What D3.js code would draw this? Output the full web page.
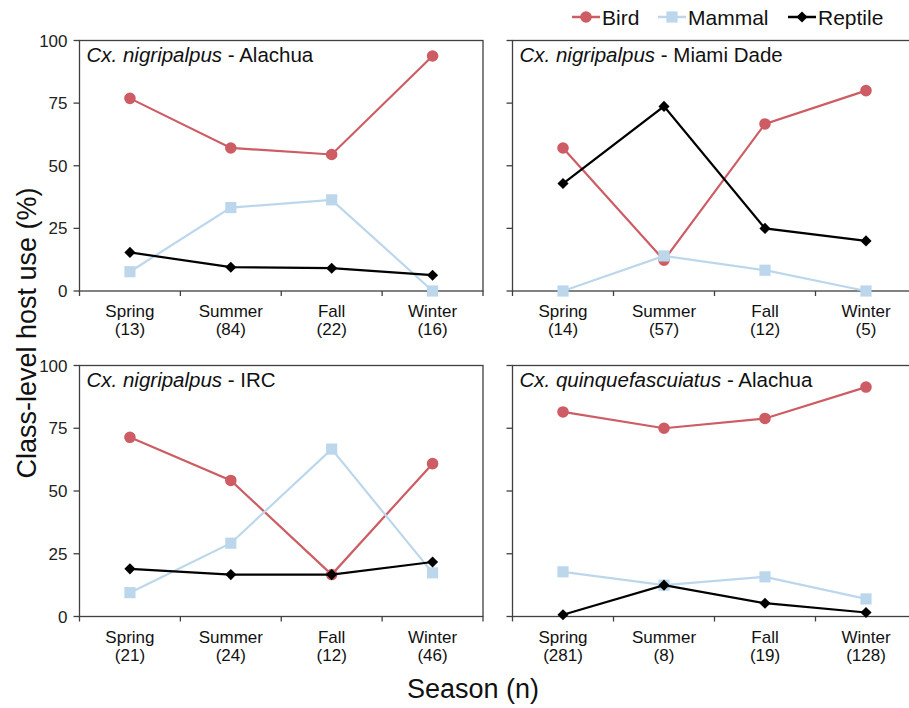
<!DOCTYPE html>
<html>
<head>
<meta charset="utf-8">
<script src="https://cdn.jsdelivr.net/npm/d3@7"></script>
<style>
  body { margin: 0; background: #fff; }
  svg { display: block; font-family: "Liberation Sans", Arial, sans-serif; }
</style>
</head>
<body>
<svg width="909" height="708"></svg>
<script>
// -------------------- Data --------------------
const seasons = ["Spring", "Summer", "Fall", "Winter"];
const yTicks = [0, 25, 50, 75, 100];
const species = ["Cx. nigripalpus", "Cx. nigripalpus", "Cx. nigripalpus", "Cx. quinquefascuiatus"];
const sites = ["Alachua", "Miami Dade", "IRC", "Alachua"];
const sampleSizes = [[13, 84, 22, 16], [14, 57, 12, 5], [21, 24, 12, 46], [281, 8, 19, 128]];

const birdValues = [[76.9, 57.1, 54.5, 93.8], [57.1, 12.3, 66.7, 80.0], [71.4, 54.2, 16.7, 60.9], [81.5, 75.0, 78.9, 91.4]];
const mammalValues = [[7.7, 33.3, 36.4, 0], [0, 14.0, 8.3, 0], [9.5, 29.2, 66.7, 17.4], [17.8, 12.5, 15.8, 7.0]];
const reptileValues = [[15.4, 9.5, 9.1, 6.3], [42.9, 73.7, 25.0, 20.0], [19.0, 16.7, 16.7, 21.7], [0.7, 12.5, 5.3, 1.6]];

const seriesNames = ["Bird", "Mammal", "Reptile"];

// -------------------- Layout --------------------
const birdColor = "#cd5c64";
const mammalColor = "#bcd7ec";
const axisColor = "#404040";

const panels = [
  { left: 79.5, right: 483, top: 40.5, bottom: 291, yLabels: true },
  { left: 512.5, right: 916.5, top: 40.5, bottom: 291, yLabels: false },
  { left: 79.5, right: 483, top: 365.5, bottom: 616.5, yLabels: true },
  { left: 512.5, right: 916.5, top: 365.5, bottom: 616.5, yLabels: false }
];

// reptile diamond = square turned 45 degrees
const series = [
  { name: seriesNames[0], values: birdValues, color: birdColor, symbol: d3.symbolCircle, size: 105, rot: 0 },
  { name: seriesNames[1], values: mammalValues, color: mammalColor, symbol: d3.symbolSquare, size: 125, rot: 0 },
  { name: seriesNames[2], values: reptileValues, color: "#000", symbol: d3.symbolSquare, size: 62, rot: 45 }
];

const svg = d3.select("svg");

panels.forEach((p, i) => {
  const x = d3.scaleBand().domain(seasons).range([p.left, p.right]);
  const y = d3.scaleLinear().domain([0, 100]).range([p.bottom, p.top]);
  const g = svg.append("g");

  // frame
  g.append("rect")
    .attr("x", p.left).attr("y", p.top)
    .attr("width", p.right - p.left).attr("height", p.bottom - p.top)
    .attr("fill", "none").attr("stroke", axisColor).attr("stroke-width", 1.3);

  // y axis ticks
  g.selectAll(".ytick").data(yTicks).enter().append("line")
    .attr("x1", p.left - 6).attr("x2", p.left)
    .attr("y1", d => y(d)).attr("y2", d => y(d))
    .attr("stroke", axisColor).attr("stroke-width", 1.3);

  if (p.yLabels) {
    g.selectAll(".ylab").data(yTicks).enter().append("text")
      .attr("x", p.left - 12).attr("y", d => y(d) + 6)
      .attr("text-anchor", "end")
      .attr("font-size", 17).attr("fill", "#222")
      .text(d => d);
  }

  // x ticks at band edges
  const edges = seasons.map(s => x(s)).concat([p.right]);
  g.selectAll(".xtick").data(edges).enter().append("line")
    .attr("x1", d => d).attr("x2", d => d)
    .attr("y1", p.bottom).attr("y2", p.bottom + 5)
    .attr("stroke", axisColor).attr("stroke-width", 1.3);

  // x labels
  const lab = g.selectAll(".xlab").data(seasons).enter().append("text")
    .attr("text-anchor", "middle")
    .attr("font-size", 17).attr("fill", "#111");
  lab.append("tspan")
    .attr("x", d => x(d) + x.bandwidth() / 2).attr("y", p.bottom + 26)
    .text(d => d);
  lab.append("tspan")
    .attr("x", d => x(d) + x.bandwidth() / 2).attr("y", p.bottom + 44)
    .text((d, j) => `(${sampleSizes[i][j]})`);

  // series
  series.forEach(s => {
    const vals = s.values[i].map((v, j) => ({ season: seasons[j], v }));
    const line = d3.line()
      .x(d => x(d.season) + x.bandwidth() / 2)
      .y(d => y(d.v));
    g.append("path").datum(vals)
      .attr("fill", "none").attr("stroke", s.color).attr("stroke-width", 2.2)
      .attr("d", line);
    g.selectAll(null).data(vals).enter().append("path")
      .attr("d", d3.symbol().type(s.symbol).size(s.size))
      .attr("transform", d => `translate(${x(d.season) + x.bandwidth() / 2},${y(d.v)}) rotate(${s.rot})`)
      .attr("fill", s.color);
  });

  // panel title
  const t = g.append("text")
    .attr("x", p.left + 7).attr("y", p.top + 21)
    .attr("font-size", 20.5).attr("fill", "#111");
  t.append("tspan").attr("font-style", "italic").text(species[i]);
  t.append("tspan").text(" - " + sites[i]);
});

// -------------------- Axis titles --------------------
svg.append("text")
  .attr("transform", "translate(36,333) rotate(-90)")
  .attr("text-anchor", "middle")
  .attr("font-size", 27).attr("fill", "#111")
  .text("Class-level host use (%)");

svg.append("text")
  .attr("x", 473).attr("y", 698)
  .attr("text-anchor", "middle")
  .attr("font-size", 27).attr("fill", "#111")
  .text("Season (n)");

// -------------------- Legend --------------------
const legendX = [572, 658, 788];
const leg = svg.selectAll(".legend").data(series).enter().append("g")
  .attr("transform", (d, i) => `translate(${legendX[i]},17)`);
leg.append("line")
  .attr("x1", 0).attr("x2", 28).attr("y1", 0).attr("y2", 0)
  .attr("stroke", d => d.color).attr("stroke-width", 2.5);
leg.append("path")
  .attr("d", d => d3.symbol().type(d.symbol).size(d.size)())
  .attr("transform", d => `translate(14,0) rotate(${d.rot})`)
  .attr("fill", d => d.color);
leg.append("text")
  .attr("x", 30).attr("y", 7.5)
  .attr("font-size", 21).attr("fill", "#111")
  .text(d => d.name);
</script>
</body>
</html>
